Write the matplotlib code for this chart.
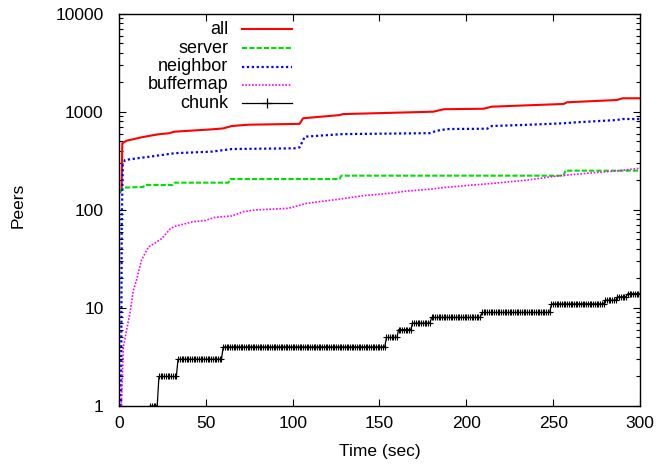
import numpy as np
import matplotlib
matplotlib.use("Agg")
import matplotlib.pyplot as plt
from matplotlib.ticker import FixedLocator, LogLocator, NullFormatter

plt.rcParams['font.family'] = ['Liberation Sans', 'DejaVu Sans']

# peers seen over time, read per series
all_t = [0.3, 1.5, 1.9, 4.4, 13, 22.6, 28.4, 32.2, 53.4, 60, 64.9, 74.5, 101, 104,
         106, 127, 129, 181, 187, 210, 214.6, 256, 258, 286.6, 290, 300]
all_v = [150, 160, 480, 509, 552, 592, 606, 630, 665, 680, 719, 742, 755, 757,
         863, 930, 952, 1007, 1067, 1080, 1133, 1208, 1256, 1325, 1380, 1380]

server_t = [0.6, 2.5, 14, 15, 31, 32, 63, 64, 127, 128, 256, 257, 300]
server_v = [152, 169, 172, 180, 180, 190, 190, 207, 207, 224, 224, 252, 252]

neighbor_t = [1.2, 1.6, 2.2, 3.5, 20.7, 32.2, 53.4, 65, 101, 104, 107, 127, 129,
              179, 183, 189, 212, 214.6, 235, 256, 263.5, 286.6, 290, 300]
neighbor_v = [1, 80, 290, 324, 356, 380, 394, 419, 426, 436, 560, 592, 595,
              608, 644, 670, 675, 719, 740, 767, 785, 828, 848, 848]

bufmap_t = [1.3, 2.5, 4.4, 6.3, 8.2, 10, 13, 17, 20.7, 24.6, 29.4, 32, 42.8, 49.5,
            55, 65, 71.6, 78, 97.5, 101, 108, 127, 140.7, 156, 165.6, 179, 185,
            196, 215.5, 235, 252, 273, 288.5, 300]
bufmap_v = [1, 4, 6, 8.8, 15, 19, 31, 42, 46, 51, 64, 68, 76, 78,
            84, 87, 96, 100, 104, 108, 117, 129, 140, 148, 156, 163, 168,
            175, 187, 202, 222, 240, 252, 267]

# chunk count is sampled once a second; stored as step start times and levels
chunk_start = [18, 23, 34, 60, 154, 161, 169, 180, 209, 249, 280, 287, 293]
chunk_level = [1, 2, 3, 4, 5, 6, 7, 8, 9, 11, 12, 13, 14]
chunk_end = 300

chunk_t = np.arange(chunk_start[0], chunk_end + 1)
idx = np.searchsorted(chunk_start, chunk_t, side='right') - 1
chunk_v = np.array(chunk_level)[idx]

fig = plt.figure(figsize=(6.6, 4.65), dpi=100)
ax = fig.add_axes([0.1803, 0.1269, 0.7894, 0.843])

styles = [
    ('all', all_t, all_v, dict(color='#ff0000', lw=1.5, ls='-')),
    ('server', server_t, server_v, dict(color='#00e000', lw=1.5, dashes=(2.5, 1.0))),
    ('neighbor', neighbor_t, neighbor_v, dict(color='#0000ff', lw=1.6, ls=(0, (1, 1.2)))),
    ('buffermap', bufmap_t, bufmap_v, dict(color='#ff00ff', lw=1.2, ls=(0, (1, 1)))),
    ('chunk', chunk_t, chunk_v, dict(color='black', lw=0.9, marker='+', ms=5, mew=0.8)),
]

for name, t, v, kw in styles:
    ax.plot(t, v, **kw)

ax.set_yscale('log')
ax.set_xlim(0, 300)
ax.set_ylim(1, 10000)
ax.set_xticks([0, 50, 100, 150, 200, 250, 300])
ax.yaxis.set_major_locator(FixedLocator([1, 10, 100, 1000, 10000]))
ax.set_yticklabels(['1', '10', '100', '1000', '10000'])
ax.yaxis.set_minor_locator(LogLocator(base=10, subs=np.arange(2, 10)))
ax.yaxis.set_minor_formatter(NullFormatter())

ax.tick_params(which='both', direction='in', top=True, right=True, labelsize=12.5)
ax.tick_params(which='major', length=5, width=0.8)
ax.tick_params(which='minor', length=3, width=0.8)
ax.tick_params(axis='x', pad=7)
ax.tick_params(axis='y', pad=11)
for s in ax.spines.values():
    s.set_linewidth(1.0)

ax.set_xlabel('Time (sec)', fontsize=12.5)
ax.xaxis.set_label_coords(0.5, -0.097)
fig.text(18.5 / 660, 1 - 205 / 465, 'Peers', rotation=90,
         ha='center', va='center', fontsize=12.5)

# gnuplot-style key: right-aligned names, sample line to the right
rows = [0.9617, 0.9125, 0.8656, 0.8189, 0.7722]
for (name, t, v, kw), y in zip(styles, rows):
    ax.text(0.21, y, name, transform=ax.transAxes, ha='right', va='center', fontsize=13)
    seg = dict(kw)
    seg.pop('marker', None)
    ax.plot([0.2355, 0.3315], [y, y], transform=ax.transAxes, **seg)
    if name == 'chunk':
        ax.plot([0.2835], [y], transform=ax.transAxes, color='black',
                marker='+', ms=7, mew=0.9, ls='none')

fig.savefig('out.png', dpi=100)
